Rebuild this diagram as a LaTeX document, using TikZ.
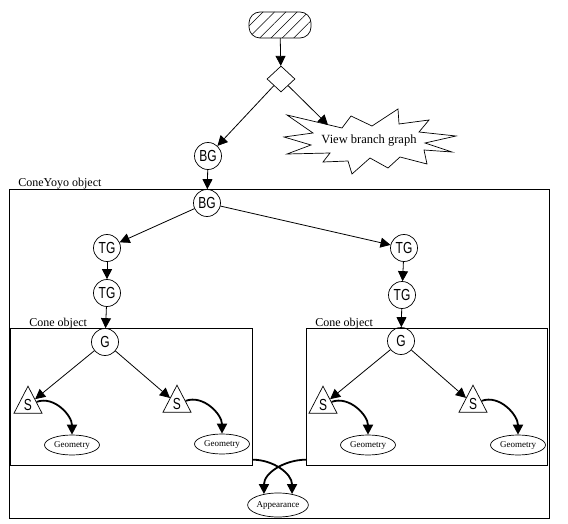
\documentclass[tikz,border=0pt]{standalone}
\usepackage{fontspec}
\setmainfont{Liberation Serif}
\newfontfamily\grfont[FakeStretch=0.75]{Liberation Sans}
\usetikzlibrary{arrows.meta,shapes.geometric,patterns.meta,calc}
\begin{document}
\begin{tikzpicture}[x=1pt,y=-1pt,line width=0.7pt,
  grp/.style={draw,circle,minimum size=27pt,inner sep=0pt,font=\grfont\fontsize{16}{16}\selectfont},
  shp/.style={draw,isosceles triangle,shape border rotate=90,isosceles triangle stretches,
    minimum width=28pt,minimum height=27pt,inner sep=0pt,font=\grfont\fontsize{16}{16}\selectfont},
  geo/.style={draw,ellipse,minimum width=55pt,minimum height=20pt,inner sep=0pt,font=\fontsize{9}{9}\selectfont},
  box/.style={draw,anchor=north west,inner sep=0pt},
  lbl/.style={anchor=base west,inner sep=0pt,font=\fontsize{12}{12}\selectfont},
  arr/.style={-{Triangle[length=10pt,width=10pt]},line width=0.8pt},
  curvearr/.style={-{Triangle[length=10pt,width=10pt]},line width=1.8pt}]
\useasboundingbox (0,0) rectangle (568,524);
\node[box,minimum width=540pt,minimum height=329pt] (yoyo) at (9,189) {};
\node[box,minimum width=242pt,minimum height=137pt] (coneL) at (10,328) {};
\node[box,minimum width=241pt,minimum height=137pt] (coneR) at (306,328) {};
\node[lbl] (yoyolbl) at (18,187) {ConeYoyo object};
\node[lbl] (conelblL) at (29,326) {Cone object};
\node[lbl] (conelblR) at (315,326) {Cone object};
\node[draw,rounded corners=11pt,minimum width=62pt,minimum height=26pt,
  pattern={Lines[angle=45,distance=8pt,line width=0.5pt]}] (start) at (280,25) {};
\node[draw,diamond,minimum width=28pt,minimum height=26pt,inner sep=0pt] (dec) at (281,79) {};
\draw (287,115) -- (342,128) -- (351,116) -- (372,126) -- (398,109) -- (399,124) -- (429,120)
  -- (419,132) -- (456,136) -- (425,143) -- (452,152) -- (424,150) -- (427,164) -- (400,157)
  -- (388,168) -- (370,158) -- (352,174) -- (348,161) -- (323,162) -- (330,153) -- (287,154)
  -- (311,145) -- (284,137) -- (313,133) -- cycle;
\coordinate (viewin) at (328,125);
\node[font=\fontsize{12.5}{12.5}\selectfont] (view) at (369,141) {View branch graph};
\node[grp] (bg1) at (208,156) {BG};
\node[grp] (bg2) at (207,203) {BG};
\node[grp] (tgL1) at (107,248) {TG};
\node[grp] (tgL2) at (107,293) {TG};
\node[grp] (tgR1) at (404,248) {TG};
\node[grp] (tgR2) at (402,295) {TG};
\node[grp] (gL) at (105,342) {G};
\node[grp] (gR) at (401,341) {G};
\node[shp] (sL1) at (28,405) {S};
\node[shp] (sL2) at (177,404) {S};
\node[shp] (sR1) at (323,405) {S};
\node[shp] (sR2) at (473,404) {S};
\node[geo] (geoL1) at (72,445) {Geometry};
\node[geo] (geoL2) at (222,444) {Geometry};
\node[geo] (geoR1) at (368,445) {Geometry};
\node[geo] (geoR2) at (518,445) {Geometry};
\node[geo,minimum width=51pt,minimum height=24pt] (app) at (278,505) {Appearance};
\draw[arr] (start) -- (dec);
\draw[arr] (dec.south west) -- (bg1);
\draw[arr] (dec.south east) -- (viewin);
\draw[arr] (bg1) -- (bg2);
\draw[arr] (bg2) -- (tgL1);
\draw[arr] (bg2) -- (tgR1);
\draw[arr] (tgL1) -- (tgL2);
\draw[arr] (tgR1) -- (tgR2);
\draw[arr] (tgL2) -- (gL);
\draw[arr] (tgR2) -- (gR);
\draw[arr] (gL) -- (sL1);
\draw[arr] (gL) -- (sL2);
\draw[arr] (gR) -- (sR1);
\draw[arr] (gR) -- (sR2);
\draw[curvearr] (sL1) to[out=20,in=90] (geoL1);
\draw[curvearr] (sL2) to[out=20,in=90] (geoL2);
\draw[curvearr] (sR1) to[out=20,in=90] (geoR1);
\draw[curvearr] (sR2) to[out=20,in=90] (geoR2);
\coordinate (outL) at ($(coneL.south east)+(0,-6)$);
\coordinate (outR) at ($(coneR.south west)+(0,-6)$);
\draw[curvearr] (outL) to[out=0,in=90] (app.38);
\draw[curvearr] (outR) to[out=180,in=90] (app.142);
\end{tikzpicture}
\end{document}
